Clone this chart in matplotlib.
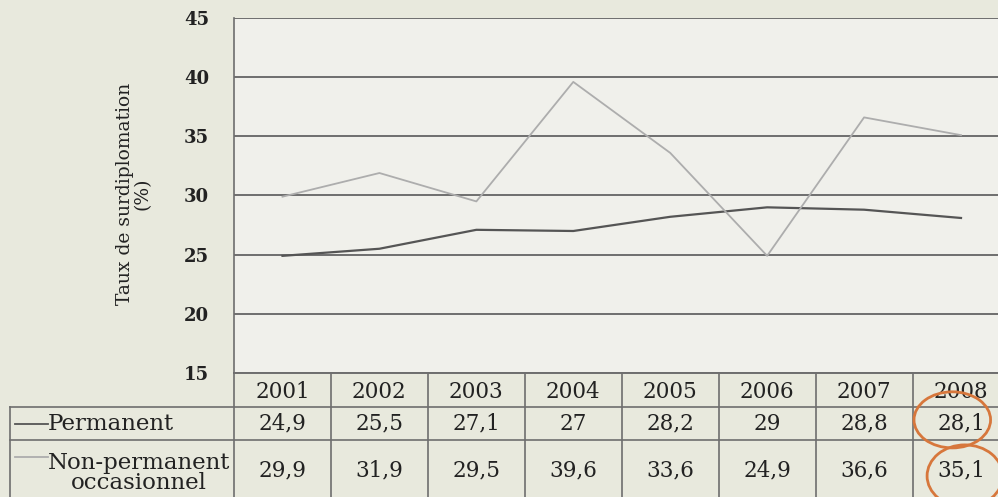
import numpy as np
import matplotlib.pyplot as plt
from matplotlib.patches import Ellipse
import matplotlib.transforms as mtransforms

years = [2001, 2002, 2003, 2004, 2005, 2006, 2007, 2008]
permanent = [24.9, 25.5, 27.1, 27.0, 28.2, 29.0, 28.8, 28.1]
non_permanent = [29.9, 31.9, 29.5, 39.6, 33.6, 24.9, 36.6, 35.1]
perm_labels = ["24,9", "25,5", "27,1", "27", "28,2", "29", "28,8", "28,1"]
nonperm_labels = ["29,9", "31,9", "29,5", "39,6", "33,6", "24,9", "36,6", "35,1"]
series_names = ["Permanent", "Non-permanent\noccasionnel"]
yticks = [15, 20, 25, 30, 35, 40, 45]

font = "DejaVu Serif"
perm_color = "#555555"
nonperm_color = "#adadad"
grid_color = "#6e6e6e"
txt_color = "#222222"

fig = plt.figure(figsize=(9.98, 4.97), dpi=100)
fig.patch.set_facecolor("#e8e9dd")
ax = fig.add_axes([0.2345, 0.2495, 0.777, 0.7143])
ax.set_facecolor("#f0f0eb")

ax.plot(years, permanent, color=perm_color, lw=1.6, zorder=3)
ax.plot(years, non_permanent, color=nonperm_color, lw=1.3, zorder=3)

ax.set_xlim(years[0] - 0.5, years[-1] + 0.5)
ax.set_ylim(15, 45)
ax.set_yticks(yticks)
ax.set_yticklabels([str(t) for t in yticks], fontfamily=font, fontsize=13,
                   color=txt_color, fontweight="bold")
ax.tick_params(axis="y", length=0, pad=18)
ax.set_xticks([])
ax.yaxis.grid(True, color=grid_color, lw=1.4)
ax.set_axisbelow(True)
for s in ["top", "right"]:
    ax.spines[s].set_visible(False)
ax.spines["left"].set_color(grid_color)
ax.spines["bottom"].set_color(grid_color)
ax.spines["left"].set_linewidth(1.2)
ax.spines["bottom"].set_linewidth(1.4)

fig.text(0.134, 0.61, "Taux de surdiplomation\n(%)", rotation=90, ha="center",
         va="center", fontfamily=font, fontsize=13.5, color=txt_color,
         linespacing=1.0)

# data table under the plot
tr = mtransforms.blended_transform_factory(ax.transData, ax.transAxes)
r1, r2, r3 = -0.096, -0.19, -0.36
x_left = years[0] - 0.5 - 2.31
x_right = years[-1] + 0.5
edges = [years[0] - 0.5 + i for i in range(len(years) + 1)]
lkw = dict(color=grid_color, lw=1.2, transform=tr, clip_on=False)
for e in edges:
    ax.plot([e, e], [0, r3], **lkw)
ax.plot([x_left, x_left], [r1, r3], **lkw)
ax.plot([x_left, x_right], [r1, r1], **lkw)
ax.plot([x_left, x_right], [r2, r2], **lkw)

tkw = dict(transform=tr, ha="center", va="center", fontfamily=font,
           fontsize=15.5, color=txt_color, clip_on=False)
for i, y in enumerate(years):
    ax.text(y, r1 / 2 - 0.005, str(y), **tkw)
    ax.text(y, (r1 + r2) / 2, perm_labels[i], **tkw)
    ax.text(y, -0.275, nonperm_labels[i], **tkw)

ax.plot([x_left + 0.05, x_left + 0.39], [(r1 + r2) / 2] * 2, color=perm_color,
        lw=1.3, transform=tr, clip_on=False)
ax.plot([x_left + 0.05, x_left + 0.39], [-0.238] * 2,
        color=nonperm_color, lw=1.3, transform=tr, clip_on=False)
ax.text(x_left + 0.39, (r1 + r2) / 2, series_names[0], transform=tr, ha="left",
        va="center", fontfamily=font, fontsize=16.5, color=txt_color, clip_on=False)
ax.text(x_left + 1.33, -0.282, series_names[1], transform=tr,
        ha="center", va="center", fontfamily=font, fontsize=16.5, color=txt_color,
        linespacing=0.9, clip_on=False)

# orange highlight circles on the last year
for xc, yc, w, h in [(years[-1] - 0.09, -0.132, 0.79, 0.158),
                     (years[-1] + 0.04, -0.29, 0.78, 0.175)]:
    ax.add_patch(Ellipse((xc, yc), w, h, transform=tr, fill=False,
                         edgecolor="#d7773c", lw=2.0, clip_on=False, zorder=5))

fig.savefig("out.png", dpi=100, facecolor=fig.get_facecolor())
